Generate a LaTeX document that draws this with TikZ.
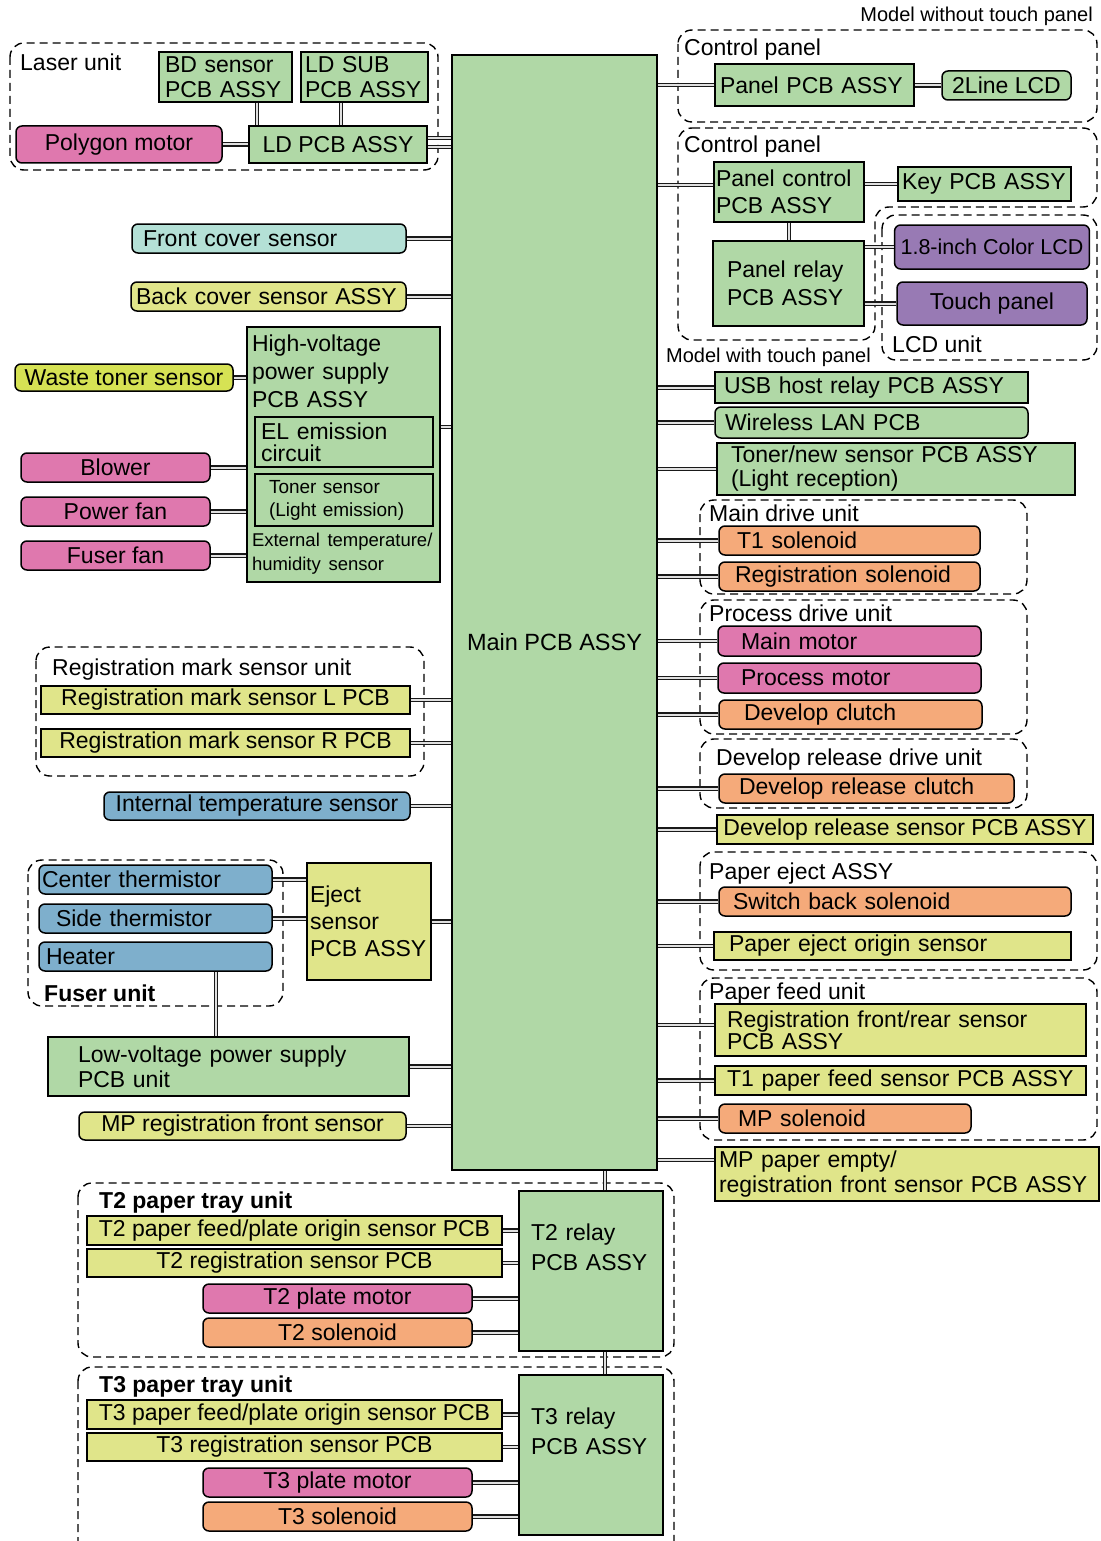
\documentclass[tikz,border=0pt]{standalone}
\usepackage{fontspec}
\setmainfont{Liberation Sans}
\usepackage{tikz}
\definecolor{pcbgreen}{RGB}{176,216,166}
\definecolor{motorpink}{RGB}{223,120,174}
\definecolor{sensoryellow}{RGB}{224,229,138}
\definecolor{wasteyellow}{RGB}{214,226,84}
\definecolor{solorange}{RGB}{245,170,122}
\definecolor{heatblue}{RGB}{126,175,204}
\definecolor{lcdpurple}{RGB}{152,122,180}
\definecolor{covercyan}{RGB}{180,224,214}
\tikzstyle{block} = [rectangle, draw, line width=1.5pt, inner xsep=6pt, inner ysep=1pt, align=left, font=\fontsize{23}{25}\selectfont]
\tikzstyle{pcb} = [block, fill=pcbgreen]
\tikzstyle{part} = [block, rounded corners=6pt]
\tikzstyle{unit} = [draw, dashed, dash pattern=on 8pt off 5pt, line width=1.4pt, rounded corners=14pt]
\tikzstyle{wire} = [draw=black!90, line width=1.3pt, double=black!12, double distance=2pt]
\tikzstyle{tag} = [inner sep=0pt, anchor=base west, font=\fontsize{23}{25}\selectfont]
\def\padw{6}
\tikzset{
  padx/.code={\def\padw{#1}\tikzset{inner xsep=#1pt}},
  span/.code n args={4}{%
    \pgfmathsetmacro\bw{#3-#1}\pgfmathsetmacro\bh{#4-#2}%
    \pgfmathsetmacro\bx{(#1+#3)/2}\pgfmathsetmacro\by{(#2+#4)/2}%
    \pgfmathsetmacro\tw{#3-#1-2*\padw}%
    \tikzset{minimum width=\bw pt, minimum height=\bh pt, text width=\tw pt, at={(\bx,\by)}}},
  spanc/.code n args={4}{%
    \pgfmathsetmacro\bw{#3-#1}\pgfmathsetmacro\bh{#4-#2}%
    \pgfmathsetmacro\bx{(#1+#3)/2}\pgfmathsetmacro\by{(#2+#4)/2}%
    \tikzset{minimum width=\bw pt, minimum height=\bh pt, at={(\bx,\by)}}},
}

\begin{document}
\begin{tikzpicture}[x=1pt, y=-1pt]
\useasboundingbox (0,0) rectangle (1100,1541);

% main board
\node[pcb, spanc={452}{55}{657}{1170}, label={[font=\fontsize{23.5}{25}\selectfont, yshift=-29.5pt]center:Main PCB ASSY}] (main) {};

% laser unit
\draw[unit] (10,43) rectangle (438,170);
\node[tag] at (20,71) {Laser unit};
\node[pcb, span={159}{52}{292}{102}] (bdsensor) {BD sensor\\PCB ASSY};
\node[pcb, padx=4, span={301}{52}{428}{102}] (ldsub) {LD SUB\\PCB ASSY};
\node[pcb, spanc={249}{126}{427}{163}] (ldpcb) {LD PCB ASSY};
\node[part, fill=motorpink, spanc={16}{126}{222}{163}] (polygon) {Polygon motor};

% left side
\node[part, fill=covercyan, padx=11, span={132}{224}{406}{253}] (frontcover) {Front cover sensor};
\node[part, fill=sensoryellow, padx=5, span={131}{282}{406}{311}] (backcover) {Back cover sensor ASSY};
\node[pcb, padx=5, span={247}{327}{440}{582}, font=\fontsize{23}{24}\selectfont] (hvps) {High-voltage\\[4pt]power supply\\[4pt]PCB ASSY\\[115pt]\fontsize{18.5}{24}\selectfont External temperature/\\humidity sensor};
\node[pcb, span={255}{417}{433}{467}, font=\fontsize{23}{22}\selectfont] (elcircuit) {EL emission\\circuit};
\node[pcb, padx=14, span={255}{474}{433}{526}, font=\fontsize{19}{23}\selectfont] (tonerled) {Toner sensor\\(Light emission)};
\node[part, fill=wasteyellow, spanc={15}{364}{233}{391}] (wastetoner) {Waste toner sensor};
\node[part, fill=motorpink, spanc={21}{453}{210}{482}] (blower) {Blower};
\node[part, fill=motorpink, spanc={21}{497}{210}{526}] (powerfan) {Power fan};
\node[part, fill=motorpink, spanc={21}{541}{210}{570}] (fuserfan) {Fuser fan};

\draw[unit] (36,647) rectangle (424,776);
\node[tag] at (52,675) {Registration mark sensor unit};
\node[block, fill=sensoryellow, spanc={41}{686}{410}{714}] (regmarkl) {Registration mark sensor L PCB};
\node[block, fill=sensoryellow, spanc={41}{729}{410}{757}] (regmarkr) {Registration mark sensor R PCB};
\node[part, fill=heatblue, spanc={104}{792}{410}{820}] (inttemp) {Internal temperature sensor};

\draw[unit] (28,860) rectangle (283,1006);
\node[tag, font=\fontsize{23}{25}\selectfont\bfseries] at (44,1001) {Fuser unit};
\node[part, fill=heatblue, padx=3, span={39}{865}{272}{894}] (centerth) {Center thermistor};
\node[part, fill=heatblue, padx=17, span={39}{904}{272}{933}] (sideth) {Side thermistor};
\node[part, fill=heatblue, padx=7, span={39}{942}{272}{971}] (heater) {Heater};
\node[block, fill=sensoryellow, padx=3, span={307}{863}{431}{980}, font=\fontsize{23}{27}\selectfont] (eject) {Eject\\sensor\\PCB ASSY};
\node[pcb, padx=30, span={48}{1037}{409}{1096}] (lvps) {Low-voltage power supply\\PCB unit};
\node[part, fill=sensoryellow, spanc={79}{1112}{406}{1140}] (mpregfront) {MP registration front sensor};

% right side
\node[tag, anchor=base east, font=\fontsize{20}{22}\selectfont] at (1093,22) {Model without touch panel};
\draw[unit] (678,30) rectangle (1097,122);
\node[tag] at (684,56) {Control panel};
\node[pcb, padx=5, span={715}{64}{914}{106}] (panelpcb) {Panel PCB ASSY};
\node[part, fill=pcbgreen, spanc={942}{71}{1071}{100}] (lcd2line) {2Line LCD};

\draw[unit] (678,128) -- (1097,128) -- (1097,207) -- (875,207) -- (875,340) -- (678,340) -- cycle;
\node[tag] at (684,153) {Control panel};
\node[tag, font=\fontsize{20}{22}\selectfont] at (666,362) {Model with touch panel};
\node[pcb, padx=2, span={714}{162}{864}{222}, font=\fontsize{23}{27}\selectfont] (panelctrl) {Panel control\\PCB ASSY};
\node[pcb, padx=4, span={898}{167}{1071}{201}] (keypcb) {Key PCB ASSY};
\node[pcb, padx=14, span={713}{241}{864}{326}, font=\fontsize{23}{28}\selectfont] (panelrelay) {Panel relay\\PCB ASSY};
\draw[unit] (882,215) rectangle (1097,360);
\node[tag] at (892,352) {LCD unit};
\node[part, fill=lcdpurple, spanc={897}{225}{1087}{269}, font=\fontsize{21.5}{24}\selectfont] (colorlcd) {1.8-inch Color LCD};
\node[part, fill=lcdpurple, spanc={897}{282}{1087}{325}] (touch) {Touch panel};

\node[pcb, padx=9, span={715}{372}{1028}{403}] (usbhost) {USB host relay PCB ASSY};
\node[part, fill=pcbgreen, padx=10, span={715}{407}{1028}{438}] (wlan) {Wireless LAN PCB};
\node[pcb, padx=14, span={717}{443}{1075}{495}, font=\fontsize{23}{24}\selectfont] (tonerrx) {Toner/new sensor PCB ASSY\\(Light reception)};

\draw[unit] (700,500) rectangle (1027,594);
\node[tag] at (709,521) {Main drive unit};
\node[part, fill=solorange, padx=18, span={719}{526}{980}{555}] (t1sol) {T1 solenoid};
\node[part, fill=solorange, padx=16, span={719}{562}{980}{591}] (regsol) {Registration solenoid};

\draw[unit] (700,600) rectangle (1027,734);
\node[tag] at (709,621) {Process drive unit};
\node[part, fill=motorpink, padx=23, span={718}{626}{981}{656}] (mainmotor) {Main motor};
\node[part, fill=motorpink, padx=23, span={718}{663}{981}{693}] (procmotor) {Process motor};
\node[part, fill=solorange, padx=25, span={719}{700}{982}{729}] (devclutch) {Develop clutch};

\draw[unit] (700,739) rectangle (1027,808);
\node[tag] at (716,765) {Develop release drive unit};
\node[part, fill=solorange, padx=20, span={719}{774}{1014}{803}] (devrelclutch) {Develop release clutch};
\node[block, fill=sensoryellow, spanc={717}{815}{1093}{844}] (devrelsensor) {Develop release sensor PCB ASSY};

\draw[unit] (700,852) rectangle (1097,970);
\node[tag] at (709,879) {Paper eject ASSY};
\node[part, fill=solorange, padx=14, span={719}{887}{1071}{916}] (switchback) {Switch back solenoid};
\node[block, fill=sensoryellow, padx=15, span={714}{932}{1071}{960}] (ejectorigin) {Paper eject origin sensor};

\draw[unit] (700,978) rectangle (1097,1140);
\node[tag] at (709,999) {Paper feed unit};
\node[block, fill=sensoryellow, padx=12, span={715}{1004}{1086}{1056}, font=\fontsize{23}{22}\selectfont] (regfrontrear) {Registration front/rear sensor\\PCB ASSY};
\node[block, fill=sensoryellow, padx=12, span={715}{1066}{1086}{1095}] (t1feed) {T1 paper feed sensor PCB ASSY};
\node[part, fill=solorange, padx=19, span={719}{1104}{971}{1133}] (mpsol) {MP solenoid};
\node[block, fill=sensoryellow, padx=4, span={715}{1147}{1099}{1201}] (mpempty) {MP paper empty/\\registration front sensor PCB ASSY};

% paper trays
\draw[unit] (78,1183) rectangle (674,1357);
\node[tag, font=\fontsize{23}{25}\selectfont\bfseries] at (99,1208) {T2 paper tray unit};
\node[pcb, padx=12, span={519}{1191}{663}{1351}, font=\fontsize{23}{30}\selectfont] (t2relay) {T2 relay\\PCB ASSY\\[18pt]\mbox{}};
\node[block, fill=sensoryellow, spanc={87}{1216}{502}{1245}] (t2feed) {T2 paper feed/plate origin sensor PCB};
\node[block, fill=sensoryellow, spanc={87}{1249}{502}{1277}] (t2reg) {T2 registration sensor PCB};
\node[part, fill=motorpink, spanc={203}{1284}{472}{1313}] (t2motor) {T2 plate motor};
\node[part, fill=solorange, spanc={203}{1318}{472}{1347}] (t2sol) {T2 solenoid};

\draw[unit] (78,1367) rectangle (674,1560);
\node[tag, font=\fontsize{23}{25}\selectfont\bfseries] at (99,1392) {T3 paper tray unit};
\node[pcb, padx=12, span={519}{1375}{663}{1535}, font=\fontsize{23}{30}\selectfont] (t3relay) {T3 relay\\PCB ASSY\\[18pt]\mbox{}};
\node[block, fill=sensoryellow, spanc={87}{1400}{502}{1429}] (t3feed) {T3 paper feed/plate origin sensor PCB};
\node[block, fill=sensoryellow, spanc={87}{1433}{502}{1461}] (t3reg) {T3 registration sensor PCB};
\node[part, fill=motorpink, spanc={203}{1468}{472}{1497}] (t3motor) {T3 plate motor};
\node[part, fill=solorange, spanc={203}{1502}{472}{1531}] (t3sol) {T3 solenoid};

% connectors, left
\draw[wire] ([xshift=31.5pt]bdsensor.south) -- ([xshift=31.5pt]bdsensor.south |- ldpcb.north);
\draw[wire] ([xshift=-23.5pt]ldsub.south) -- ([xshift=-23.5pt]ldsub.south |- ldpcb.north);
\draw[wire] (polygon.east) -- (polygon.east -| ldpcb.west);
\draw[wire] ([yshift=6.5pt]ldpcb.east) -- ([yshift=6.5pt]ldpcb.east -| main.west);
\draw[wire] ([yshift=-2.5pt]ldpcb.east) -- ([yshift=-2.5pt]ldpcb.east -| main.west);
\draw[wire] (frontcover.east) -- (frontcover.east -| main.west);
\draw[wire] (backcover.east) -- (backcover.east -| main.west);
\draw[wire] ([yshift=27.5pt]hvps.east) -- ([yshift=27.5pt]hvps.east -| main.west);
\draw[wire] (wastetoner.east) -- (wastetoner.east -| hvps.west);
\draw[wire] (blower.east) -- (blower.east -| hvps.west);
\draw[wire] (powerfan.east) -- (powerfan.east -| hvps.west);
\draw[wire] (fuserfan.east) -- (fuserfan.east -| hvps.west);
\draw[wire] (regmarkl.east) -- (regmarkl.east -| main.west);
\draw[wire] (regmarkr.east) -- (regmarkr.east -| main.west);
\draw[wire] (inttemp.east) -- (inttemp.east -| main.west);
\draw[wire] (centerth.east) -- (centerth.east -| eject.west);
\draw[wire] (sideth.east) -- (sideth.east -| eject.west);
\draw[wire] (eject.east) -- (eject.east -| main.west);
\draw[wire] ([xshift=60.5pt]heater.south) -- ([xshift=60.5pt]heater.south |- lvps.north);
\draw[wire] (lvps.east) -- (lvps.east -| main.west);
\draw[wire] (mpregfront.east) -- (mpregfront.east -| main.west);

% connectors, right
\draw[wire] (panelpcb.west) -- (panelpcb.west -| main.east);
\draw[wire] (lcd2line.west) -- (lcd2line.west -| panelpcb.east);
\draw[wire] ([yshift=7pt]panelctrl.west) -- ([yshift=7pt]panelctrl.west -| main.east);
\draw[wire] (keypcb.west) -- (keypcb.west -| panelctrl.east);
\draw[wire] (panelctrl.south) -- (panelctrl.south |- panelrelay.north);
\draw[wire] (colorlcd.west) -- (colorlcd.west -| panelrelay.east);
\draw[wire] (touch.west) -- (touch.west -| panelrelay.east);
\draw[wire] (usbhost.west) -- (usbhost.west -| main.east);
\draw[wire] (wlan.west) -- (wlan.west -| main.east);
\draw[wire] (tonerrx.west) -- (tonerrx.west -| main.east);
\draw[wire] (t1sol.west) -- (t1sol.west -| main.east);
\draw[wire] (regsol.west) -- (regsol.west -| main.east);
\draw[wire] (mainmotor.west) -- (mainmotor.west -| main.east);
\draw[wire] (procmotor.west) -- (procmotor.west -| main.east);
\draw[wire] (devclutch.west) -- (devclutch.west -| main.east);
\draw[wire] (devrelclutch.west) -- (devrelclutch.west -| main.east);
\draw[wire] (devrelsensor.west) -- (devrelsensor.west -| main.east);
\draw[wire] (switchback.west) -- (switchback.west -| main.east);
\draw[wire] (ejectorigin.west) -- (ejectorigin.west -| main.east);
\draw[wire] ([yshift=5pt]regfrontrear.west) -- ([yshift=5pt]regfrontrear.west -| main.east);
\draw[wire] (t1feed.west) -- (t1feed.west -| main.east);
\draw[wire] (mpsol.west) -- (mpsol.west -| main.east);
\draw[wire] ([yshift=14pt]mpempty.west) -- ([yshift=14pt]mpempty.west -| main.east);

% connectors, trays
\draw[wire] ([xshift=14pt]t2relay.north) -- ([xshift=14pt]t2relay.north |- main.south);
\draw[wire] ([xshift=14pt]t3relay.north) -- ([xshift=14pt]t3relay.north |- t2relay.south);
\draw[wire] (t2feed.east) -- (t2feed.east -| t2relay.west);
\draw[wire] (t2reg.east) -- (t2reg.east -| t2relay.west);
\draw[wire] (t2motor.east) -- (t2motor.east -| t2relay.west);
\draw[wire] (t2sol.east) -- (t2sol.east -| t2relay.west);
\draw[wire] (t3feed.east) -- (t3feed.east -| t3relay.west);
\draw[wire] (t3reg.east) -- (t3reg.east -| t3relay.west);
\draw[wire] (t3motor.east) -- (t3motor.east -| t3relay.west);
\draw[wire] (t3sol.east) -- (t3sol.east -| t3relay.west);
\end{tikzpicture}
\end{document}
